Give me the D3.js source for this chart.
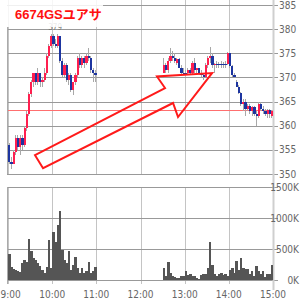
<!DOCTYPE html>
<html><head><meta charset="utf-8">
<script src="https://cdn.jsdelivr.net/npm/d3@7"></script>
<style>body{margin:0;background:#fff}svg{display:block}</style>
</head><body><svg id="c" width="300" height="300"></svg>
<script>
// ---------- data ----------
const title = "6674GSユアサ";
const priceTicks = [350, 355, 360, 365, 370, 375, 380, 385];
const volTicks = [0, 500, 1000, 1500];
const volTickLabels = ["0K", "500K", "1000K", "1500K"];
const timeTicks = [0, 60, 120, 180, 240, 300, 360];          // minutes after 9:00
const timeLabels = ["9:00", "10:00", "11:00", "12:00", "13:00", "14:00", "15:00"];
const prevClose = 363.2;
const barMinutes = 3;
const morningStart = 0;      // 9:00
const afternoonStart = 210;  // 12:30
const highLabel = "379";
const highTimeLabel = "10:05";
const highPoint = [64, 379];

// [open, high, low, close]
const morningCandles = [
  [356,356.5,352,352.5],[352.5,353.5,351,352],[352,355,352,354.5],[354.5,358,354,357.5],
  [357.5,358,355,355.5],[355.5,358,354,357.5],[357.5,358,355,356],[356,360,355.5,359.5],
  [359.5,363,359,362.5],[362.5,367,362,366.5],[366.5,369.5,366,369],[369,371,368,371],
  [371,371,368.5,369],[369,372,368.5,371],[371,371,368,369],[369,370,368,369.5],
  [369.5,372,369,371],[371,375,370.5,374.5],[374.5,377,374,376.5],[376.5,379,376,378.5],
  [378.5,379,376.5,377],[377,378,376,376.5],[376.5,379,376,378.5],[378.5,378.5,373,373.5],
  [373.5,374,370,370.5],[370.5,373,370,372.5],[372.5,373,369,369.5],[369.5,371,368.5,370.5],
  [370.5,371,367,367.5],[367.5,369,366.3,369],[369,371,368.5,370.5],[370.5,374.5,370,374],
  [374,375,372,372.5],[372.5,374.5,372,374],[374,374.5,372,373],[373,375,372.5,374.5],
  [374.5,376,373.5,374],[374,374.5,371,371.5],[371.5,372,369,371],[371,371.5,369,370.5]
];
const afternoonCandles = [
  [371,374,371,372.5],[372.5,373,371,371.5],[371.5,374,371,373.5],[373.5,376,373,374.5],
  [374.5,375.5,373.5,374],[374,375,373,373.5],[373,374,372.5,373.8],[373.8,374,372,372],
  [372,372.5,370.5,371],[371,372,370.5,371],[371,371.5,370.5,371],[371,372,370.5,371.5],
  [371.5,372,370.5,371],[371,373.5,370.5,373],[373,374,371,371.5],[371.5,372,371,372],
  [372,372,370.5,371],[371,371.5,370,370.5],[370.5,371,369.5,370],[370,373,370,372.5],
  [372.5,374.5,372,374],[374,376.3,373,374.5],[374.5,375,372,372.5],[372.5,373,371,372.8],
  [372.8,373.5,372,372.8],[372.8,373.2,372,372.8],[372.8,373.3,372,372.8],[372.8,373.2,372,372.8],
  [372.8,373.3,372,372.8],[372.8,375.3,372.5,375],[375,375,372,372.3],[372.3,372.5,370,370.5],
  [370.5,371,370,370.5],[369,369.5,368,368],[368,368.5,366.5,366.8],[366.8,367,364,364.5],
  [364.5,365.5,363,365],[365,365.5,362,363.5],[363.5,364.5,363,364],[364,364.5,362.5,363],
  [363,364,362,363.8],[363.8,364,362,362.5],[362.5,363,360,362],[362,365,361.5,364.5],
  [364.5,365,363,363.5],[363.5,364,362.5,363],[363,363.5,362,362.5],[362.5,363.5,361.5,363.2],
  [363.2,363.5,361.5,362.5],[362,363.2,361.5,363]
];
// volume in thousands of shares
const morningVolume = [420,205,185,165,140,130,270,320,290,660,470,350,320,270,225,160,110,215,650,190,
  770,620,890,1110,480,320,270,460,160,240,370,200,108,188,108,150,296,108,150,204];
const afternoonVolume = [188,60,296,108,70,55,40,30,65,60,145,80,95,65,60,25,22,80,95,90,
  190,618,240,90,65,90,120,80,95,70,160,190,110,306,160,350,190,170,185,95,
  150,70,225,150,90,150,55,100,90,250];

// arrow annotation, [minutes after 9:00, price]
const arrowPoints = [[36.7,353.9],[213.3,367.8],[202.4,370.2],[277.2,370.9],[231,361.8],[224.2,364.7],[47.6,351.2]];

// ---------- build ----------
const svg = d3.select("#c");
const x = d3.scaleLinear().domain([0, 360]).range([8, 273]);
const yP = d3.scaleLinear().domain([350, 385]).range([174, 5]);
const yV = d3.scaleLinear().domain([0, 1500]).range([280, 187]);

const candles = [
  ...morningCandles.map((d, i) => ({t: morningStart + i * barMinutes, o: d[0], h: d[1], l: d[2], c: d[3]})),
  ...afternoonCandles.map((d, i) => ({t: afternoonStart + i * barMinutes, o: d[0], h: d[1], l: d[2], c: d[3]}))
];
const vols = [
  ...morningVolume.map((v, i) => ({t: morningStart + i * barMinutes, v})),
  ...afternoonVolume.map((v, i) => ({t: afternoonStart + i * barMinutes, v}))
];
const bw = x(barMinutes) - x(0);
const font = "'Liberation Sans Narrow','DejaVu Sans Condensed',sans-serif";

// vertical grid
svg.append("g").selectAll("line").data(timeTicks.slice(0, -1)).join("line")
  .attr("x1", d => Math.round(x(d)) + 0.5).attr("x2", d => Math.round(x(d)) + 0.5)
  .attr("y1", 0).attr("y2", 174).attr("stroke", "#c4c4c4");
svg.append("g").selectAll("line").data(timeTicks.slice(0, -1)).join("line")
  .attr("x1", d => Math.round(x(d)) + 0.5).attr("x2", d => Math.round(x(d)) + 0.5)
  .attr("y1", 187).attr("y2", 284).attr("stroke", "#c4c4c4");
// horizontal grid
svg.append("g").selectAll("line").data(priceTicks).join("line")
  .attr("x1", 7).attr("x2", 278)
  .attr("y1", d => Math.round(yP(d)) + 0.5).attr("y2", d => Math.round(yP(d)) + 0.5)
  .attr("stroke", "#999");
svg.append("g").selectAll("line").data(volTicks).join("line")
  .attr("x1", 7).attr("x2", 278)
  .attr("y1", d => Math.round(yV(d)) + 0.5).attr("y2", d => Math.round(yV(d)) + 0.5)
  .attr("stroke", "#999");
// previous close line
svg.append("line").attr("x1", 7).attr("x2", 274)
  .attr("y1", Math.round(yP(prevClose)) + 0.5).attr("y2", Math.round(yP(prevClose)) + 0.5)
  .attr("stroke", "#ff6f6f");
// right axis bar
svg.append("rect").attr("x", x(360) - 0.5).attr("y", 0).attr("width", 2).attr("height", 290).attr("fill", "#cfcfcf");

// volume bars
svg.append("g").attr("shape-rendering", "crispEdges").selectAll("rect").data(vols).join("rect")
  .attr("x", d => x(d.t)).attr("width", bw + 0.3)
  .attr("y", d => yV(d.v)).attr("height", d => yV(0) - yV(d.v))
  .attr("fill", "#555");

// candles
const cg = svg.append("g").attr("shape-rendering", "crispEdges");
cg.selectAll("line").data(candles).join("line")
  .attr("x1", d => x(d.t + barMinutes / 2)).attr("x2", d => x(d.t + barMinutes / 2))
  .attr("y1", d => yP(d.h)).attr("y2", d => yP(d.l)).attr("stroke", "#a8a8a8");
cg.selectAll("rect").data(candles).join("rect")
  .attr("x", d => x(d.t) + 0.2).attr("width", bw)
  .attr("y", d => yP(Math.max(d.o, d.c)))
  .attr("height", d => Math.max(1.5, Math.abs(yP(d.o) - yP(d.c))))
  .attr("fill", d => d.c > d.o ? "#ff1f4f" : "#1d35a0");

// arrow annotation
svg.append("polygon")
  .attr("points", arrowPoints.map(p => [x(p[0]), yP(p[1])].join(",")).join(" "))
  .attr("fill", "none").attr("stroke", "#ff1a1a").attr("stroke-width", 2).attr("stroke-linejoin", "miter");

// high labels
svg.append("text").attr("x", x(highPoint[0])).attr("y", 18).attr("text-anchor", "middle")
  .attr("font-family", font).attr("font-size", 7).attr("fill", "#aaa").text(highTimeLabel);
svg.append("text").attr("x", x(highPoint[0])).attr("y", yP(highPoint[1]) - 4).attr("text-anchor", "middle")
  .attr("font-family", font).attr("font-size", 8).attr("fill", "#777").text(highLabel);

// title box
svg.append("rect").attr("x", 0).attr("y", 0).attr("width", 103).attr("height", 27)
  .attr("fill", "#fff").attr("fill-opacity", 0.85);
svg.append("text").attr("x", 15).attr("y", 19)
  .attr("font-family", "'Liberation Sans','Noto Sans CJK JP',sans-serif").attr("font-weight", "bold")
  .attr("font-size", 13).attr("fill", "#ff1010").text(title);

// left border
svg.append("line").attr("x1", 7.5).attr("x2", 7.5).attr("y1", 27).attr("y2", 174).attr("stroke", "#aaa");
svg.append("line").attr("x1", 7.5).attr("x2", 7.5).attr("y1", 187).attr("y2", 284).attr("stroke", "#aaa");

// right axis labels
svg.append("g").selectAll("text").data(priceTicks).join("text")
  .attr("x", 279).attr("y", d => yP(d)).attr("dy", "0.35em")
  .attr("font-family", font).attr("font-size", 10).attr("fill", "#666").text(d => d);
svg.append("g").selectAll("text").data(volTicks).join("text")
  .attr("x", 299).attr("y", d => yV(d)).attr("dy", "0.35em").attr("text-anchor", "end")
  .attr("font-family", font).attr("font-size", 10).attr("fill", "#666").text((d, i) => volTickLabels[i]);
// time labels
svg.append("g").selectAll("text").data(timeTicks).join("text")
  .attr("x", (d, i) => i === 0 ? 0.5 : x(d)).attr("y", 298)
  .attr("text-anchor", (d, i) => i === 0 ? "start" : "middle")
  .attr("font-family", font).attr("font-size", 10).attr("fill", "#666").text((d, i) => timeLabels[i]);
</script></body></html>
